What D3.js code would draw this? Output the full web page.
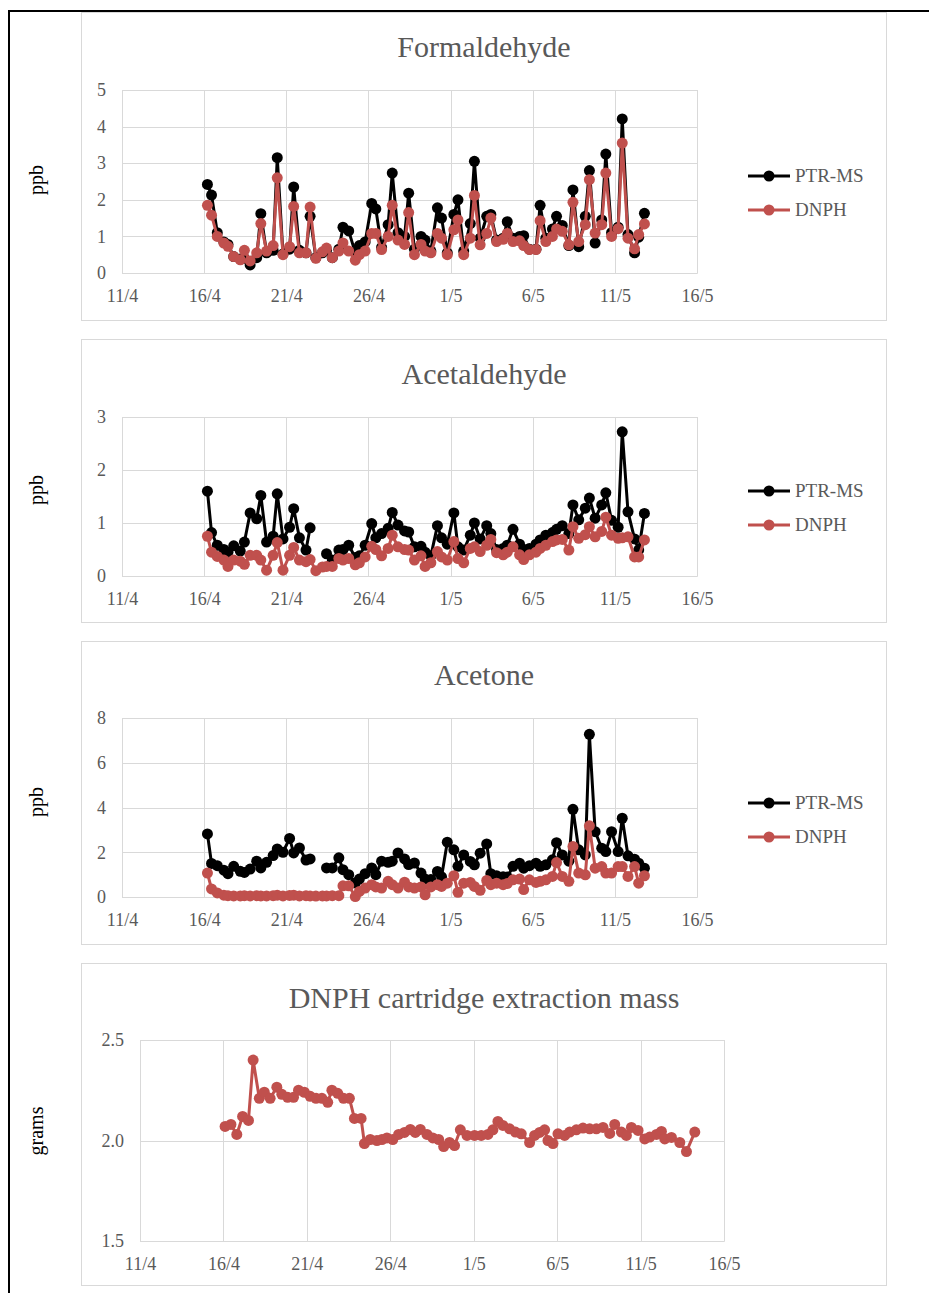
<!DOCTYPE html>
<html>
<head>
<meta charset="utf-8">
<script src="https://cdn.jsdelivr.net/npm/d3@7"></script>
<style>
  html, body { margin: 0; padding: 0; background: #fff; }
  svg { display: block; }
  text { font-family: "Liberation Serif", "Times New Roman", serif; }
</style>
</head>
<body>
<svg id="chart" width="929" height="1293"></svg>
<script>
// ---- data (day numbers counted in April: 31 = 1 May) ----
const tickDays = [11, 16, 21, 26, 31, 36, 41, 46];
const tickLabels = ["11/4", "16/4", "21/4", "26/4", "1/5", "6/5", "11/5", "16/5"];
const seriesNames = ["PTR-MS", "DNPH"];

const sampleDays = [
  16.2, 16.45, 16.8, 17.2, 17.45, 17.8, 18.2, 18.45, 18.8, 19.2, 19.45, 19.8,
  20.2, 20.45, 20.8, 21.2, 21.45, 21.8, 22.2, 22.45, 22.8, 23.2, 23.45, 23.8,
  24.2, 24.45, 24.8, 25.2, 25.45, 25.8, 26.2, 26.45, 26.8, 27.2, 27.45, 27.8,
  28.2, 28.45, 28.8, 29.2, 29.45, 29.8, 30.2, 30.45, 30.8, 31.2, 31.45, 31.8,
  32.2, 32.45, 32.8, 33.2, 33.45, 33.8, 34.2, 34.45, 34.8, 35.2, 35.45, 35.8,
  36.2, 36.45, 36.8, 37.2, 37.45, 37.8, 38.2, 38.45, 38.8, 39.2, 39.45, 39.8,
  40.2, 40.45, 40.8, 41.2, 41.45, 41.8, 42.2, 42.45, 42.8
];

const formaldehydePTR = [
  2.42, 2.13, 1.10, 0.85, 0.78, 0.45, 0.38, 0.40, 0.22, 0.42, 1.62, 0.55,
  0.62, 3.15, 0.52, 0.65, 2.35, 0.62, 0.55, 1.55, 0.42, 0.55, 0.62, 0.42,
  0.65, 1.25, 1.15, 0.55, 0.75, 0.85, 1.90, 1.75, 0.70, 1.32, 2.73, 1.10,
  1.00, 2.18, 0.65, 1.00, 0.90, 0.60, 1.78, 1.50, 0.55, 1.60, 2.00, 0.60,
  1.35, 3.05, 0.95, 1.55, 1.60, 0.90, 0.95, 1.40, 0.95, 1.00, 1.02, 0.65,
  0.65, 1.85, 0.95, 1.20, 1.55, 1.30, 0.75, 2.27, 0.72, 1.55, 2.80, 0.82,
  1.45, 3.25, 1.10, 1.25, 4.21, 1.05, 0.55, 0.98, 1.63
];
const formaldehydeDNPH = [
  1.85, 1.58, 1.00, 0.82, 0.73, 0.45, 0.36, 0.62, 0.33, 0.55, 1.35, 0.60,
  0.75, 2.60, 0.50, 0.72, 1.82, 0.55, 0.55, 1.80, 0.40, 0.58, 0.68, 0.42,
  0.60, 0.82, 0.60, 0.35, 0.50, 0.60, 1.08, 1.08, 0.64, 1.00, 1.85, 0.90,
  0.78, 1.65, 0.50, 0.78, 0.60, 0.55, 1.08, 0.95, 0.50, 1.18, 1.45, 0.50,
  0.95, 2.12, 0.77, 1.08, 1.50, 0.86, 0.92, 1.08, 0.86, 0.88, 0.75, 0.64,
  0.64, 1.43, 0.86, 1.00, 1.20, 1.14, 0.77, 1.93, 0.86, 1.32, 2.55, 1.09,
  1.32, 2.73, 1.00, 1.21, 3.55, 0.95, 0.66, 1.05, 1.34
];

const acetaldehydePTR = [
  1.60, 0.82, 0.58, 0.50, 0.45, 0.57, 0.47, 0.64, 1.19, 1.08, 1.52, 0.64,
  0.75, 1.55, 0.70, 0.92, 1.27, 0.72, 0.49, 0.91, null, null, 0.42, 0.30,
  0.49, 0.50, 0.58, 0.35, 0.38, 0.58, 0.99, 0.72, 0.80, 0.90, 1.20, 0.96,
  0.85, 0.83, 0.55, 0.56, 0.45, 0.38, 0.95, 0.72, 0.60, 1.19, 0.55, 0.49,
  0.77, 1.00, 0.70, 0.95, 0.80, 0.50, 0.52, 0.58, 0.88, 0.60, 0.50, 0.52,
  0.60, 0.68, 0.77, 0.82, 0.88, 0.95, 0.80, 1.34, 1.06, 1.28, 1.47, 1.09,
  1.34, 1.57, 1.05, 0.92, 2.72, 1.21, 0.70, 0.49, 1.18
];
const acetaldehydeDNPH = [
  0.75, 0.45, 0.37, 0.30, 0.18, 0.30, 0.28, 0.22, 0.39, 0.39, 0.30, 0.11,
  0.39, 0.63, 0.11, 0.39, 0.54, 0.30, 0.27, 0.31, 0.10, 0.17, 0.18, 0.18,
  0.33, 0.30, 0.33, 0.21, 0.25, 0.36, 0.56, 0.50, 0.38, 0.52, 0.77, 0.55,
  0.50, 0.49, 0.30, 0.38, 0.18, 0.25, 0.46, 0.36, 0.30, 0.65, 0.33, 0.25,
  0.52, 0.55, 0.46, 0.58, 0.69, 0.44, 0.40, 0.45, 0.55, 0.40, 0.31, 0.40,
  0.45, 0.52, 0.58, 0.65, 0.68, 0.69, 0.49, 0.93, 0.71, 0.78, 0.93, 0.74,
  0.84, 1.11, 0.77, 0.71, 0.72, 0.74, 0.36, 0.36, 0.68
];

const acetonePTR = [
  2.82, 1.50, 1.40, 1.20, 1.04, 1.37, 1.15, 1.10, 1.25, 1.60, 1.30, 1.55,
  1.85, 2.15, 2.00, 2.62, 1.97, 2.19, 1.65, 1.70, null, null, 1.30, 1.30,
  1.75, 1.22, 1.00, 0.63, 0.80, 1.04, 1.30, 1.00, 1.60, 1.55, 1.60, 1.97,
  1.70, 1.45, 1.52, 1.07, 0.80, 0.78, 1.14, 0.90, 2.45, 2.11, 1.37, 1.88,
  1.59, 1.44, 1.96, 2.37, 1.04, 0.95, 0.90, 0.89, 1.37, 1.51, 1.29, 1.40,
  1.51, 1.37, 1.44, 1.66, 2.43, 1.88, 1.60, 3.92, 2.11, 1.88, 7.27, 2.92,
  2.18, 2.03, 2.92, 2.03, 3.52, 1.84, 1.69, 1.51, 1.29
];
const acetoneDNPH = [
  1.07, 0.36, 0.18, 0.08, 0.06, 0.05, 0.05, 0.06, 0.05, 0.06, 0.05, 0.05,
  0.06, 0.08, 0.05, 0.07, 0.08, 0.05, 0.06, 0.05, 0.04, 0.05, 0.05, 0.06,
  0.06, 0.50, 0.50, 0.02, 0.25, 0.40, 0.55, 0.45, 0.40, 0.70, 0.55, 0.40,
  0.66, 0.45, 0.40, 0.45, 0.10, 0.45, 0.55, 0.47, 0.62, 0.95, 0.21, 0.62,
  0.65, 0.47, 0.30, 0.74, 0.55, 0.62, 0.55, 0.60, 0.77, 0.80, 0.33, 0.77,
  0.65, 0.70, 0.77, 0.92, 1.54, 0.92, 0.70, 2.26, 1.07, 0.99, 3.18, 1.29,
  1.36, 1.07, 1.07, 1.36, 1.36, 0.92, 1.36, 0.62, 0.95
];

const massDays = [
  16.1, 16.45, 16.8, 17.15, 17.5, 17.78, 18.15, 18.45, 18.8, 19.2,
  19.5, 19.85, 20.2, 20.5, 20.85, 21.2, 21.55, 21.9, 22.25, 22.5,
  22.85, 23.2, 23.55, 23.85, 24.25, 24.45, 24.8, 25.2, 25.5, 25.8,
  26.15, 26.5, 26.85, 27.2, 27.5, 27.8, 28.2, 28.55, 28.9, 29.2,
  29.55, 29.85, 30.2, 30.6, 31.05, 31.45, 31.85, 32.15, 32.45, 32.75,
  33.15, 33.5, 33.85, 34.35, 34.65, 34.95, 35.25, 35.45, 35.75, 36.05,
  36.45, 36.75, 37.15, 37.55, 37.95, 38.35, 38.75, 39.15, 39.45, 39.85,
  40.15, 40.45, 40.85, 41.25, 41.55, 41.95, 42.25, 42.45, 42.85, 43.35,
  43.75, 44.25
];
const massGrams = [
  2.07, 2.08, 2.03, 2.12, 2.10, 2.40, 2.21, 2.24, 2.21, 2.265,
  2.23, 2.215, 2.215, 2.25, 2.24, 2.22, 2.21, 2.21, 2.19, 2.25,
  2.235, 2.21, 2.21, 2.11, 2.11, 1.985, 2.005, 2.0, 2.005, 2.013,
  2.005, 2.03, 2.04, 2.055, 2.04, 2.055, 2.03, 2.013, 2.005, 1.97,
  1.99, 1.975, 2.053, 2.025, 2.025, 2.025, 2.03, 2.053, 2.095, 2.075,
  2.058, 2.042, 2.033, 1.99, 2.025, 2.04, 2.053, 2.0, 1.985, 2.033,
  2.025, 2.042, 2.053, 2.062, 2.058, 2.058, 2.065, 2.035, 2.08, 2.042,
  2.025, 2.065, 2.05, 2.008, 2.017, 2.03, 2.045, 2.008, 2.015, 1.99,
  1.945, 2.042
];

// ---- styles ----
const PTR_COLOR = "#000000";
const DNPH_COLOR = "#C0504D";
const TEXT_COLOR = "#595959";
const GRID_COLOR = "#d9d9d9";

const svg = d3.select("#chart");

// page frame lines
svg.append("line").attr("x1", 9).attr("y1", 11).attr("x2", 929).attr("y2", 11)
  .attr("stroke", "#000").attr("stroke-width", 2);
svg.append("line").attr("x1", 9).attr("y1", 10).attr("x2", 9).attr("y2", 1293)
  .attr("stroke", "#000").attr("stroke-width", 2);

const panels = [
  { title: "Formaldehyde", box: [81.5, 12.5, 886.5, 320.5], plot: [122, 697, 90, 273],
    yDomain: [0, 5], yTicks: [0, 1, 2, 3, 4, 5], yFmt: d3.format("d"),
    titleY: 57, ylabel: "ppb", ylabelY: 180, legendY: 176,
    series: [[sampleDays, formaldehydePTR, PTR_COLOR], [sampleDays, formaldehydeDNPH, DNPH_COLOR]] },
  { title: "Acetaldehyde", box: [81.5, 339.5, 886.5, 622.5], plot: [122, 697, 417, 576],
    yDomain: [0, 3], yTicks: [0, 1, 2, 3], yFmt: d3.format("d"),
    titleY: 384, ylabel: "ppb", ylabelY: 490, legendY: 491,
    series: [[sampleDays, acetaldehydePTR, PTR_COLOR], [sampleDays, acetaldehydeDNPH, DNPH_COLOR]] },
  { title: "Acetone", box: [81.5, 641.5, 886.5, 944.5], plot: [122, 697, 718, 897],
    yDomain: [0, 8], yTicks: [0, 2, 4, 6, 8], yFmt: d3.format("d"),
    titleY: 685, ylabel: "ppb", ylabelY: 802, legendY: 803,
    series: [[sampleDays, acetonePTR, PTR_COLOR], [sampleDays, acetoneDNPH, DNPH_COLOR]] },
  { title: "DNPH cartridge extraction mass", box: [81.5, 963.5, 886.5, 1285.5], plot: [140, 724, 1040, 1241],
    yDomain: [1.5, 2.5], yTicks: [1.5, 2.0, 2.5], yFmt: d3.format(".1f"),
    titleY: 1008, ylabel: "grams", ylabelY: 1131, legendY: null,
    series: [[massDays, massGrams, DNPH_COLOR]] }
];

panels.forEach(p => {
  const g = svg.append("g");
  const [bx0, by0, bx1, by1] = p.box;
  g.append("rect").attr("x", bx0).attr("y", by0).attr("width", bx1 - bx0).attr("height", by1 - by0)
    .attr("fill", "#fff").attr("stroke", GRID_COLOR).attr("stroke-width", 1);

  const [left, right, top, bottom] = p.plot;
  const x = d3.scaleLinear().domain([tickDays[0], tickDays[tickDays.length - 1]]).range([left, right]);
  const y = d3.scaleLinear().domain(p.yDomain).range([bottom, top]);

  // gridlines + x axis
  const xAxis = d3.axisBottom(x).tickValues(tickDays).tickSize(-(bottom - top)).tickFormat((d, i) => tickLabels[i]).tickPadding(16);
  const gx = g.append("g").attr("transform", `translate(0,${bottom})`).call(xAxis);
  gx.select(".domain").attr("stroke", GRID_COLOR);
  gx.selectAll(".tick line").attr("stroke", GRID_COLOR).attr("shape-rendering", "crispEdges");
  gx.selectAll(".tick text").attr("fill", TEXT_COLOR).attr("font-size", 18)
    .attr("font-family", "'Liberation Serif', 'Times New Roman', serif");

  const yAxis = d3.axisLeft(y).tickValues(p.yTicks).tickSize(-(right - left)).tickFormat(p.yFmt).tickPadding(16);
  const gy = g.append("g").attr("transform", `translate(${left},0)`).call(yAxis);
  gy.select(".domain").remove();
  gy.selectAll(".tick line").attr("stroke", GRID_COLOR).attr("shape-rendering", "crispEdges");
  gy.selectAll(".tick text").attr("fill", TEXT_COLOR).attr("font-size", 18)
    .attr("font-family", "'Liberation Serif', 'Times New Roman', serif");

  // title
  g.append("text").attr("x", (bx0 + bx1) / 2).attr("y", p.titleY).attr("text-anchor", "middle")
    .attr("fill", TEXT_COLOR).attr("font-size", 30).text(p.title);

  // y label
  g.append("text").attr("transform", `translate(43,${p.ylabelY}) rotate(-90)`).attr("text-anchor", "middle")
    .attr("fill", "#000").attr("font-size", 20).text(p.ylabel);

  // series
  p.series.forEach(([xs, ys, color]) => {
    const pts = xs.map((d, i) => ({ d, v: ys[i] }));
    const line = d3.line().defined(q => q.v !== null).x(q => x(q.d)).y(q => y(q.v));
    g.append("path").datum(pts).attr("d", line).attr("fill", "none")
      .attr("stroke", color).attr("stroke-width", 3).attr("stroke-linejoin", "round");
    g.append("g").selectAll("circle").data(pts.filter(q => q.v !== null)).join("circle")
      .attr("cx", q => x(q.d)).attr("cy", q => y(q.v)).attr("r", 5.5).attr("fill", color);
  });

  // legend
  if (p.legendY !== null) {
    p.series.forEach(([xs, ys, color], i) => {
      const ly = p.legendY + i * 34;
      g.append("line").attr("x1", 748).attr("x2", 790).attr("y1", ly).attr("y2", ly)
        .attr("stroke", color).attr("stroke-width", 3);
      g.append("circle").attr("cx", 769).attr("cy", ly).attr("r", 5.5).attr("fill", color);
      g.append("text").attr("x", 795).attr("y", ly + 6).attr("fill", TEXT_COLOR)
        .attr("font-size", 19).text(seriesNames[i]);
    });
  }
});
</script>
</body>
</html>
